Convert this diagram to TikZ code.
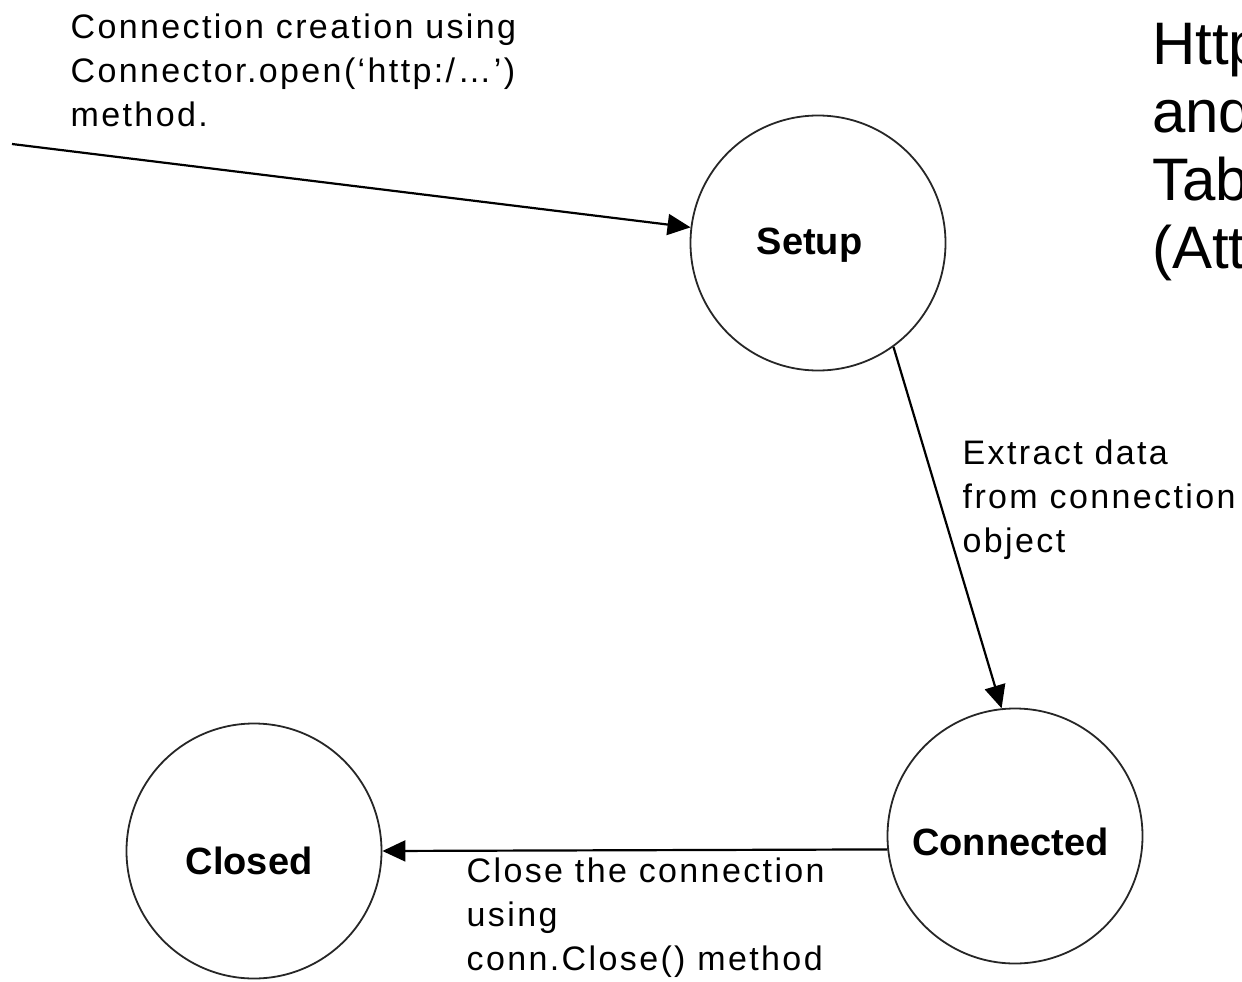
\documentclass[tikz,border=0pt]{standalone}
\usepackage{fontspec}
\setmainfont{Liberation Sans}
\newfontfamily\notefont[LetterSpace=7]{Liberation Sans}
\usetikzlibrary{arrows.meta}

\begin{document}
\begin{tikzpicture}[x=1pt,y=-1pt,
  state/.style={circle, draw=black!85, line width=1.8pt, minimum size=255pt, inner sep=0pt},
  statename/.style={inner sep=0pt, anchor=center, text height=27pt, text depth=0pt,
                    font=\fontsize{38}{44}\selectfont\bfseries},
  flow/.style={draw=black, line width=2.2pt, -{Triangle[length=23pt,width=21pt]}},
  note/.style={anchor=north west, inner sep=0pt, align=left,
               font=\notefont\fontsize{34}{44}\selectfont},
  sidetext/.style={anchor=north west, inner sep=0pt, align=left,
                   font=\fontsize{60}{68}\selectfont}]
  \path[use as bounding box] (0,0) rectangle (1242,982);
  \clip (0,0) rectangle (1242,982);

  % states
  \node[state] (setup) at (818,243) {};
  \node[statename] (setupname) at (809.5,241) {Setup};
  \node[state] (connected) at (1015,836) {};
  \node[statename] (connectedname) at (1010.5,842) {Connected};
  \node[state] (closed) at (254,851) {};
  \node[statename] (closedname) at (249,860.5) {Closed};

  % transitions
  \coordinate (src) at (12,144);
  \draw[flow] (src) -- (setup.173.8);
  \draw[flow] (setup.-54.7) -- (connected.96.7);
  \draw[flow] (connected.186.3) -- (closed.east);

  % transition notes
  \node[note] (opennote) at (70.5,14) {Connection creation using\\Connector.open(‘http:/…’)\\method.};
  \node[note] (extractnote) at (962.5,440) {Extract data\\from connection\\object};
  \node[note] (closenote) at (466.5,858) {Close the connection\\using\\conn.Close() method};

  % heading running off the right edge
  \node[sidetext] (heading) at (1152,23) {Http\\and\\Tab\\(Att};
\end{tikzpicture}
\end{document}
